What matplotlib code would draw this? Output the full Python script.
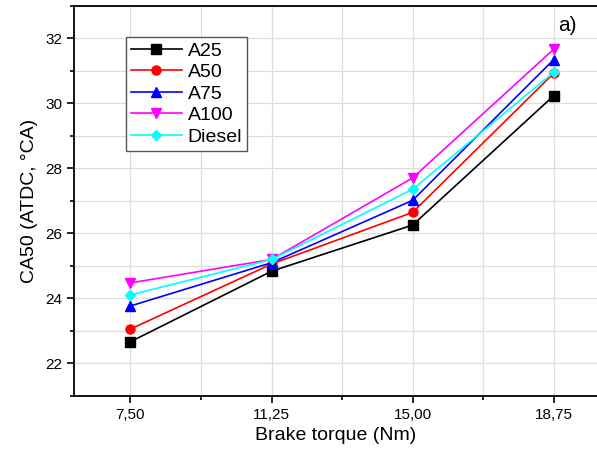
import numpy as np
import matplotlib.pyplot as plt
from matplotlib.ticker import MultipleLocator

plt.rcParams['font.family'] = ['Liberation Sans', 'DejaVu Sans']

# data
torque = [7.50, 11.25, 15.00, 18.75]
torque_labels = ["7,50", "11,25", "15,00", "18,75"]
a25 = [22.67, 24.84, 26.26, 30.24]
a50 = [23.06, 25.06, 26.65, 30.93]
a75 = [23.77, 25.10, 27.02, 31.35]
a100 = [24.48, 25.20, 27.71, 31.67]
diesel = [24.11, 25.20, 27.36, 30.96]

series = [
    ("A25", a25, "black", "s"),
    ("A50", a50, "red", "o"),
    ("A75", a75, "blue", "^"),
    ("A100", a100, "magenta", "v"),
    ("Diesel", diesel, "cyan", "D"),
]

fig = plt.figure(figsize=(5.97, 4.5), dpi=100)
ax = fig.add_axes([0.124, 0.12, 0.876, 0.8667])

for name, vals, col, mk in series:
    ax.plot(torque, vals, color=col, marker=mk, lw=1.2,
            markersize=6.5 if mk != "D" else 5.5, label=name, zorder=3)

ax.set_xlim(6.0, 19.9)
ax.set_ylim(21, 33)
ax.set_xticks(torque)
ax.set_xticklabels(torque_labels)
ax.xaxis.set_minor_locator(MultipleLocator(1.875))
ax.yaxis.set_major_locator(MultipleLocator(2))
ax.yaxis.set_minor_locator(MultipleLocator(1))
ax.grid(True, which="both", color="#dddddd", lw=0.9, zorder=0)
ax.tick_params(which="both", direction="out", labelsize=11, width=1.2)
ax.tick_params(which="major", length=5)
ax.tick_params(which="minor", length=3)
for s in ["left", "bottom", "top"]:
    ax.spines[s].set_linewidth(1.3)
ax.spines["right"].set_visible(False)

ax.set_xlabel("Brake torque (Nm)", fontsize=14, labelpad=4)
ax.set_ylabel("CA50 (ATDC, \u00b0CA)", fontsize=14, labelpad=5)

leg = ax.legend(loc="upper left", bbox_to_anchor=(0.1, 0.92), fontsize=14,
                fancybox=False, edgecolor="#555555", framealpha=1,
                handlelength=2.6, borderpad=0.25, labelspacing=0.2,
                handletextpad=0.3, borderaxespad=0)
leg.get_frame().set_linewidth(1.0)

fig.text(0.95, 0.965, "a)", fontsize=15, ha="center", va="top")

fig.savefig("out.png", dpi=100)
